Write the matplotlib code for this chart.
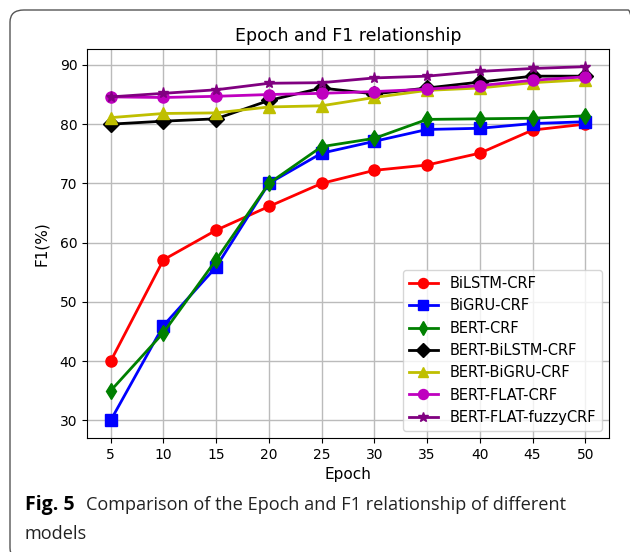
import matplotlib
matplotlib.use('Agg')
import matplotlib.pyplot as plt
from matplotlib.patches import FancyBboxPatch

# Epoch values on the x axis
epochs = [5, 10, 15, 20, 25, 30, 35, 40, 45, 50]
# F1 (%) for each model
bilstm_crf = [40, 57.1, 62.1, 66.1, 70, 72.2, 73.1, 75.1, 79, 80]
bigru_crf = [30, 46, 55.9, 70, 75.1, 77.1, 79.1, 79.3, 80.1, 80.4]
bert_crf = [35, 44.8, 57.1, 70, 76.2, 77.6, 80.8, 80.9, 81, 81.4]
bert_bilstm_crf = [80, 80.5, 80.9, 84, 86.1, 85.1, 86.1, 87.1, 88.1, 88.1]
bert_bigru_crf = [81.1, 81.8, 81.9, 82.9, 83.1, 84.5, 85.7, 86.1, 87, 87.5]
bert_flat_crf = [84.6, 84.5, 84.7, 85, 85.2, 85.5, 85.9, 86.5, 87.4, 88]
bert_flat_fuzzycrf = [84.6, 85.2, 85.8, 86.9, 87, 87.8, 88.1, 88.9, 89.4, 89.7]

fig = plt.figure(figsize=(6.3, 5.52), dpi=100)

# rounded frame around the whole figure (partly cut off on right and bottom)
frame = FancyBboxPatch((10/630, -8/552), 632/630, 550/552,
                       boxstyle="round,pad=0,rounding_size=0.022",
                       transform=fig.transFigure, fill=False,
                       edgecolor='#555555', linewidth=1.0)
fig.patches.append(frame)

ax = fig.add_axes([87/630, 1 - 438/552, (609 - 87)/630, (438 - 49)/552])

ax.plot(epochs, bilstm_crf, 'r-o', lw=2, ms=8, label='BiLSTM-CRF')
ax.plot(epochs, bigru_crf, 'b-s', lw=2, ms=8, label='BiGRU-CRF')
ax.plot(epochs, bert_crf, 'g-d', lw=2, ms=8, label='BERT-CRF')
ax.plot(epochs, bert_bilstm_crf, 'k-D', lw=2, ms=8, label='BERT-BiLSTM-CRF')
ax.plot(epochs, bert_bigru_crf, 'y-^', lw=2, ms=8, label='BERT-BiGRU-CRF')
ax.plot(epochs, bert_flat_crf, 'm-o', lw=2, ms=8, label='BERT-FLAT-CRF')
ax.plot(epochs, bert_flat_fuzzycrf, '-*', color='purple', lw=2, ms=8, label='BERT-FLAT-fuzzyCRF')

ax.set_xticks(epochs)
ax.set_yticks([30, 40, 50, 60, 70, 80, 90])
ax.tick_params(labelsize=10)
ax.grid(True, color='#bbbbbb', lw=1)
ax.set_title('Epoch and F1 relationship', fontsize=12.5)
ax.set_xlabel('Epoch', fontsize=11)
ax.set_ylabel('F1(%)', fontsize=11, labelpad=8)
ax.legend(loc='lower right', fontsize=10.5, markerscale=0.9)

# figure caption
fig.text(25/630, 1 - 505/552, 'Fig. 5', fontsize=14, fontweight='bold',
         family='Open Sans', va='center')
fig.text(86/630, 1 - 505/552, 'Comparison of the Epoch and F1 relationship of different',
         fontsize=13.1, family='Open Sans', va='center', color='#222222')
fig.text(25/630, 1 - 534/552, 'models', fontsize=13.1, family='Open Sans',
         va='center', color='#222222')

plt.savefig('out.png', dpi=100)
